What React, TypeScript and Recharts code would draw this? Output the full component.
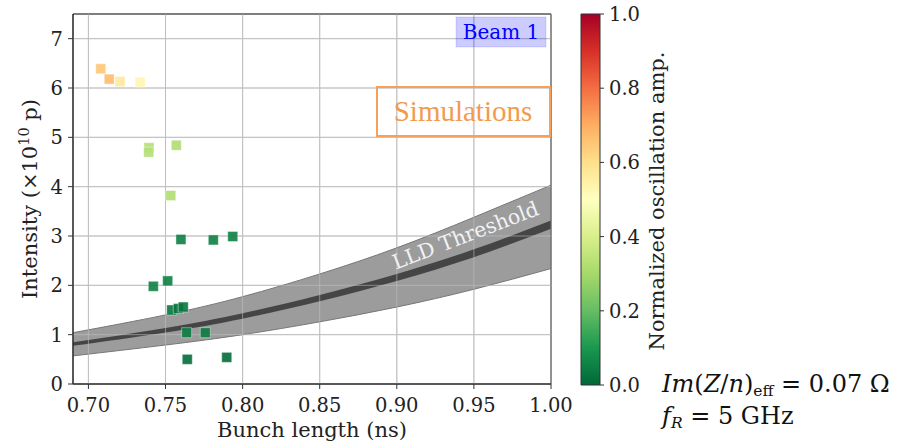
import React from "react";
import {
  ComposedChart,
  BarChart,
  Bar,
  Area,
  Scatter,
  XAxis,
  YAxis,
  CartesianGrid,
  ReferenceArea,
  ReferenceLine,
} from "recharts";

// measured bunches
const bunchLength = [
  0.708, 0.7135, 0.7205, 0.7335, 0.7393, 0.7391, 0.757, 0.7534, 0.76, 0.781,
  0.7936, 0.7421, 0.7514, 0.754, 0.7583, 0.7615, 0.7637, 0.7758, 0.7641, 0.7897,
];
const intensity = [
  6.39, 6.18, 6.13, 6.12, 4.79, 4.7, 4.84, 3.82, 2.93, 2.92, 2.99, 1.98, 2.09,
  1.5, 1.53, 1.56, 1.04, 1.04, 0.5, 0.54,
];
const oscAmp = [
  0.65, 0.67, 0.57, 0.53, 0.33, 0.33, 0.32, 0.32, 0.05, 0.05, 0.05, 0.05, 0.05,
  0.03, 0.03, 0.03, 0.04, 0.04, 0.01, 0.01,
];

// LLD threshold: outer band and centre line
const thrX = [0.69, 0.75, 0.8, 0.85, 0.9, 0.95, 1.0];
const thrLow = [0.57, 0.79, 1.0, 1.26, 1.56, 1.92, 2.34];
const thrHigh = [1.04, 1.4, 1.77, 2.23, 2.76, 3.38, 4.03];
const coreLow = [0.775, 1.045, 1.325, 1.675, 2.09, 2.57, 3.145];
const coreHigh = [0.845, 1.135, 1.435, 1.805, 2.23, 2.73, 3.315];

const xTicks = [0.7, 0.75, 0.8, 0.85, 0.9, 0.95, 1.0];
const yTicks = [0, 1, 2, 3, 4, 5, 6, 7];
const cbTicks = [0, 0.2, 0.4, 0.6, 0.8, 1.0];

// RdYlGn, reversed (green = 0, red = 1)
const cmap = [
  "#006837", "#1a9850", "#66bd63", "#a6d96a", "#d9ef8b", "#ffffbf",
  "#fee08b", "#fdae61", "#f46d43", "#d73027", "#a50026",
];

const SERIF = "DejaVu Serif";

function hexRgb(h: string) {
  return [1, 3, 5].map((i) => parseInt(h.slice(i, i + 2), 16));
}

function ampColor(v: number) {
  const t = Math.max(0, Math.min(1, v)) * (cmap.length - 1);
  const i = Math.min(Math.floor(t), cmap.length - 2);
  const f = t - i;
  const a = hexRgb(cmap[i]);
  const b = hexRgb(cmap[i + 1]);
  const c = a.map((x, k) => Math.round(x + (b[k] - x) * f));
  return `rgb(${c[0]},${c[1]},${c[2]})`;
}

const points = bunchLength.map((x, i) => ({ x, y: intensity[i], amp: oscAmp[i] }));
const band = thrX.map((x, i) => ({
  x,
  lo: thrLow[i],
  hi: thrHigh[i],
  cLo: coreLow[i],
  cHi: coreHigh[i],
}));

function SquareMark(props: any) {
  const { cx, cy, payload } = props;
  const s = 10;
  return (
    <rect
      x={cx - s / 2}
      y={cy - s / 2}
      width={s}
      height={s}
      fill={ampColor(payload.amp)}
      fillOpacity={0.9}
      stroke="#ffffff"
      strokeOpacity={0.4}
      strokeWidth={1}
    />
  );
}

const tickStyle = { fontFamily: SERIF, fontSize: 19.5, fill: "#222" };

export default function App() {
  return (
    <div style={{ position: "fixed", left: 0, top: 0, width: 904, height: 444, background: "#fff" }}>
      <div style={{ position: "absolute", left: 0, top: 0 }}>
        <ComposedChart
          width={600}
          height={444}
          data={band}
          margin={{ top: 14, right: 49, bottom: 7, left: 13 }}
        >
          <CartesianGrid stroke="#b8b8b8" strokeWidth={1} />
          <XAxis
            type="number"
            dataKey="x"
            domain={[0.69, 1.0]}
            ticks={xTicks}
            allowDataOverflow
            tickFormatter={(v: number) => v.toFixed(2)}
            tick={tickStyle}
            tickSize={5}
            tickMargin={9}
            height={53}
            stroke="#333"
          />
          <YAxis
            type="number"
            domain={[0, 7.5]}
            ticks={yTicks}
            allowDataOverflow
            tick={tickStyle}
            tickSize={5}
            tickMargin={5}
            width={60}
            stroke="#333"
          />
          <Area
            type="natural"
            dataKey={(d: any) => [d.lo, d.hi]}
            fill="#9c9c9c"
            fillOpacity={1}
            stroke="#777"
            strokeWidth={1}
            isAnimationActive={false}
          />
          <Area
            type="natural"
            dataKey={(d: any) => [d.cLo, d.cHi]}
            fill="#454545"
            fillOpacity={1}
            stroke="none"
            isAnimationActive={false}
          />
          {/* grid lines drawn again so they show across the threshold band */}
          {xTicks.map((t) => (
            <ReferenceLine key={`gx${t}`} x={t} stroke="#c4c4c4" strokeOpacity={0.55} />
          ))}
          {yTicks.slice(1).map((t) => (
            <ReferenceLine key={`gy${t}`} y={t} stroke="#c4c4c4" strokeOpacity={0.55} />
          ))}
          <Scatter data={points} dataKey="y" shape={SquareMark} isAnimationActive={false} />
          <ReferenceArea x1={0.69} x2={1.0} y1={0} y2={7.5} fill="none" stroke="#222" strokeWidth={1} />
        </ComposedChart>
      </div>

      {/* colour bar */}
      <div style={{ position: "absolute", left: 570, top: 0 }}>
        <BarChart
          width={130}
          height={444}
          data={[{ k: "amp", v: 1 }]}
          margin={{ top: 14, right: 0, bottom: 59, left: 11 }}
          barCategoryGap={0}
        >
          <defs>
            <linearGradient id="rdylgn" x1="0" y1="1" x2="0" y2="0">
              {cmap.map((c, i) => (
                <stop key={i} offset={i / (cmap.length - 1)} stopColor={c} />
              ))}
            </linearGradient>
          </defs>
          <XAxis dataKey="k" hide />
          <YAxis
            orientation="right"
            type="number"
            domain={[0, 1]}
            ticks={cbTicks}
            tickFormatter={(v: number) => v.toFixed(1)}
            tick={tickStyle}
            tickSize={4}
            tickMargin={5}
            axisLine={false}
            width={100}
            stroke="#333"
          />
          <Bar dataKey="v" fill="url(#rdylgn)" stroke="#333" strokeWidth={1} isAnimationActive={false} />
        </BarChart>
      </div>

      <svg width={904} height={444} style={{ position: "absolute", left: 0, top: 0, pointerEvents: "none" }}>
        <text
          x={37}
          y={199}
          transform="rotate(-90 37 199)"
          textAnchor="middle"
          fontFamily={SERIF}
          fontSize={21}
          fill="#222"
        >
          Intensity (×10<tspan fontSize={14.5} dy={-8}>10</tspan>
          <tspan dy={8}> p)</tspan>
        </text>
        <text x={312} y={437} textAnchor="middle" fontFamily={SERIF} fontSize={21} fill="#222">
          Bunch length (ns)
        </text>
        <text
          x={664}
          y={201}
          transform="rotate(-90 664 201)"
          textAnchor="middle"
          fontFamily={SERIF}
          fontSize={21}
          fill="#222"
        >
          Normalized oscillation amp.
        </text>

        <text
          x={468}
          y={242}
          transform="rotate(-21 468 242)"
          textAnchor="middle"
          fontFamily={SERIF}
          fontSize={20.5}
          fill="#f2f2f2"
        >
          LLD Threshold
        </text>

        <rect x={456} y={17} width={90} height={30} fill="rgba(0,0,255,0.2)" stroke="rgba(0,0,255,0.12)" />
        <text x={501} y={39} textAnchor="middle" fontFamily={SERIF} fontSize={20} fill="#0000ff">
          Beam 1
        </text>

        <rect x={377} y={87} width={173} height={49} fill="none" stroke="#f5a05c" strokeWidth={2} />
        <text x={463} y={121} textAnchor="middle" fontFamily="Liberation Serif" fontSize={29} fill="#f39a4e">
          Simulations
        </text>

        <text x={662} y={392} fontFamily={SERIF} fontSize={24} fill="#111">
          <tspan fontStyle="italic">Im</tspan>(<tspan fontStyle="italic">Z</tspan>/<tspan fontStyle="italic">n</tspan>)
          <tspan fontSize={15.5} dy={4}>eff</tspan>
          <tspan dy={-4}> = 0.07 Ω</tspan>
        </text>
        <text x={662} y={424} fontFamily={SERIF} fontSize={24} fill="#111">
          <tspan fontStyle="italic">f</tspan>
          <tspan fontStyle="italic" fontSize={15.5} dy={4}>R</tspan>
          <tspan dy={-4}> = 5 GHz</tspan>
        </text>
      </svg>
    </div>
  );
}
